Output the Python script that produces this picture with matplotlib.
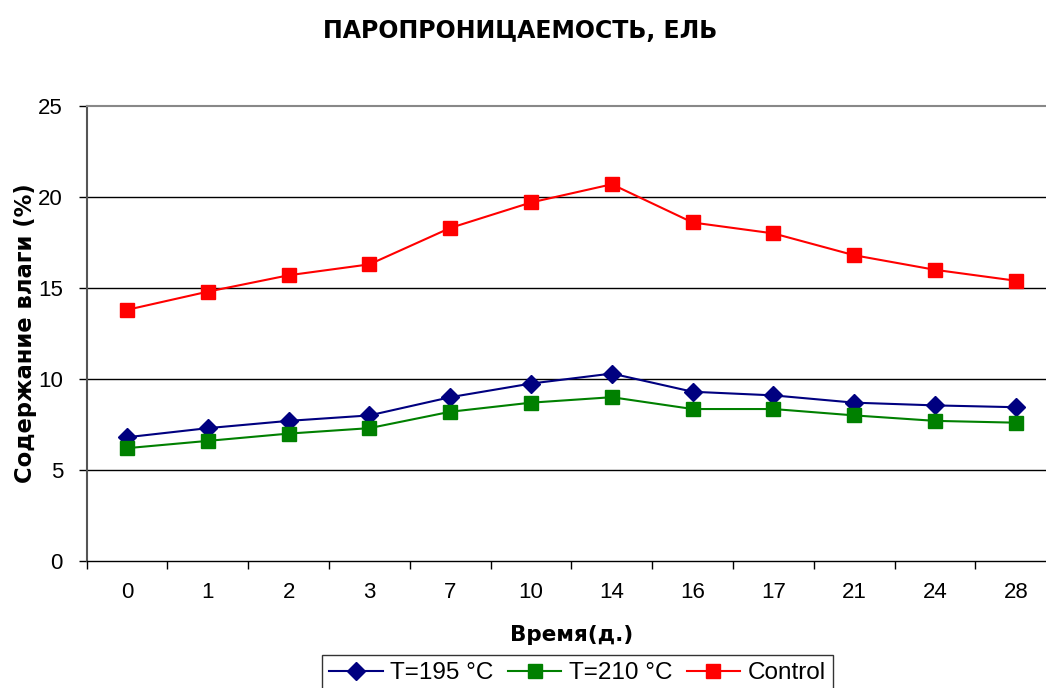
import matplotlib.pyplot as plt

days = ['0', '1', '2', '3', '7', '10', '14', '16', '17', '21', '24', '28']
t195 = [6.8, 7.3, 7.7, 8.0, 9.0, 9.75, 10.3, 9.3, 9.1, 8.7, 8.55, 8.45]
t210 = [6.2, 6.6, 7.0, 7.3, 8.2, 8.7, 9.0, 8.35, 8.35, 8.0, 7.7, 7.6]
control = [13.8, 14.8, 15.7, 16.3, 18.3, 19.7, 20.7, 18.6, 18.0, 16.8, 16.0, 15.4]

title = 'ПАРОПРОНИЦАЕМОСТЬ, ЕЛЬ'
xlabel = 'Время(д.)'
ylabel = 'Содержание влаги (%)'

fig = plt.figure(figsize=(10.46, 6.88), dpi=100)
# plot area runs past the right edge of the picture, as in the original
ax = fig.add_axes([0.0828, 0.1846, 0.927, 0.6613])

x = list(range(len(days)))
ax.plot(x, t195, color='#000080', marker='D', markersize=9, linewidth=1.5, label='T=195 °C', zorder=3)
ax.plot(x, t210, color='#008000', marker='s', markersize=9.5, linewidth=1.5, label='T=210 °C', zorder=3)
ax.plot(x, control, color='#ff0000', marker='s', markersize=10, linewidth=1.5, label='Control', zorder=3)

ax.set_xlim(-0.5, len(days) - 0.5)
ax.set_ylim(0, 25)
ax.set_yticks([0, 5, 10, 15, 20, 25])
for y in [5, 10, 15, 20]:
    ax.axhline(y, color='black', linewidth=1, zorder=1)

ax.set_xticks(x)
ax.set_xticklabels(days, fontsize=16, family='Liberation Sans')
ax.set_xticks([i + 0.5 for i in range(-1, len(days))], minor=True)
ax.tick_params(axis='x', which='major', length=0, pad=15)
ax.tick_params(axis='x', which='minor', length=6, width=1, direction='out')
ax.tick_params(axis='y', length=6, width=1, direction='out', labelsize=16, pad=11)
for lab in ax.get_yticklabels():
    lab.set_family('Liberation Sans')

ax.spines['right'].set_visible(False)
ax.spines['top'].set_color('#888888')
ax.spines['top'].set_linewidth(1.5)
ax.spines['left'].set_color('#555555')
ax.spines['left'].set_linewidth(1.5)
ax.spines['bottom'].set_color('black')
ax.spines['bottom'].set_linewidth(1)

ax.set_xlabel(xlabel, fontsize=15.5, fontweight='bold', labelpad=16)
ax.set_ylabel(ylabel, fontsize=16.3, fontweight='bold', labelpad=1)
fig.text(0.497, 0.955, title, fontsize=17, fontweight='bold', ha='center', va='center')

leg = ax.legend(loc='upper center', bbox_to_anchor=(0.552, 0.048), bbox_transform=fig.transFigure,
                ncol=3, frameon=True, fancybox=False, edgecolor='black',
                prop={'family': 'Liberation Sans', 'size': 17.5},
                handlelength=2.2, handletextpad=0.3, columnspacing=0.6, borderpad=0.3, borderaxespad=0)
leg.get_frame().set_linewidth(1)

fig.savefig('out.png', dpi=100)
